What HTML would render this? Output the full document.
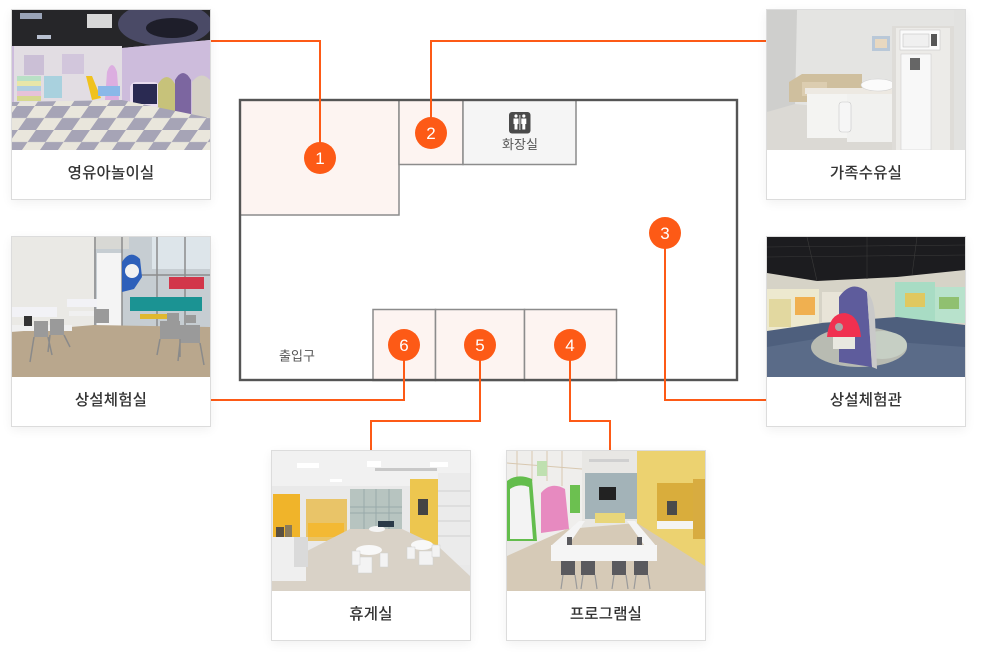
<!DOCTYPE html>
<html><head><meta charset="utf-8">
<style>
html,body{margin:0;padding:0;background:#fff;}
body{width:985px;height:663px;position:relative;overflow:hidden;font-family:"Liberation Sans","Noto Sans CJK KR",sans-serif;}
.card{position:absolute;width:198px;height:189px;border:1px solid #dcdcdc;background:#fff;box-shadow:0 3px 10px rgba(0,0,0,0.06);}
.card svg{display:block;width:198px;height:140px;}
.card .cap{height:49px;line-height:47px;text-align:center;font-size:15.5px;font-weight:500;color:#333;letter-spacing:0.2px;}
#plan{position:absolute;left:0;top:0;}
</style></head><body>

<svg id="plan" width="985" height="663" viewBox="0 0 985 663" xmlns="http://www.w3.org/2000/svg">
  <rect x="240" y="100" width="497" height="280" fill="#fff"/>
  <rect x="240" y="100" width="159" height="115" fill="#fdf4f1" stroke="#8c8c8c" stroke-width="1.5"/>
  <rect x="399" y="100" width="64" height="64.5" fill="#fdf4f1" stroke="#8c8c8c" stroke-width="1.5"/>
  <rect x="463" y="100" width="113" height="64.5" fill="#f5f5f5" stroke="#8c8c8c" stroke-width="1.5"/>
  <rect x="373" y="309.5" width="62.5" height="71" fill="#fdf4f1" stroke="#8c8c8c" stroke-width="1.5"/>
  <rect x="435.5" y="309.5" width="89" height="71" fill="#fdf4f1" stroke="#8c8c8c" stroke-width="1.5"/>
  <rect x="524.5" y="309.5" width="92" height="71" fill="#fdf4f1" stroke="#8c8c8c" stroke-width="1.5"/>
  <rect x="240" y="100" width="497" height="280" fill="none" stroke="#555" stroke-width="2.4"/>
  <!-- toilet icon -->
  <rect x="509" y="112" width="21.5" height="21.5" rx="3" fill="#4a4a4a"/>
  <circle cx="516" cy="116" r="1.6" fill="#fff"/>
  <path d="M513.5 118.5h5v5.5h-1v5.5h-3v-5.5h-1z" fill="#fff"/>
  <circle cx="523.8" cy="116" r="1.6" fill="#fff"/>
  <path d="M521.3 118.5h5v5.5h-1v5.5h-3v-5.5h-1z" fill="#fff"/>
  <line x1="519.9" y1="115" x2="519.9" y2="130" stroke="#fff" stroke-width="0.8"/>
  <text x="520" y="149" text-anchor="middle" font-size="13" fill="#555" font-family="Liberation Sans, Noto Sans CJK KR, sans-serif">화장실</text>
  <text x="297" y="360.5" text-anchor="middle" font-size="13" fill="#555" font-family="Liberation Sans, Noto Sans CJK KR, sans-serif">출입구</text>
  <!-- connectors -->
  <g fill="none" stroke="#fd5a16" stroke-width="2">
    <polyline points="211,41 320,41 320,158"/>
    <polyline points="766,41 431,41 431,133"/>
    <polyline points="665,233 665,400 766,400"/>
    <polyline points="404,345 404,400 211,400"/>
    <polyline points="480,345 480,421 371,421 371,451"/>
    <polyline points="570,345 570,421 610,421 610,451"/>
  </g>
  <g fill="#fd5a16">
    <circle cx="320" cy="158" r="16"/>
    <circle cx="431" cy="133" r="16"/>
    <circle cx="665" cy="233" r="16"/>
    <circle cx="570" cy="345" r="16"/>
    <circle cx="480" cy="345" r="16"/>
    <circle cx="404" cy="345" r="16"/>
  </g>
  <g fill="#fff" font-size="17" text-anchor="middle" font-family="Liberation Sans, sans-serif">
    <text x="320" y="164">1</text>
    <text x="431" y="139">2</text>
    <text x="665" y="239">3</text>
    <text x="570" y="351">4</text>
    <text x="480" y="351">5</text>
    <text x="404" y="351">6</text>
  </g>
</svg>

<!-- Card 1 영유아놀이실 -->
<div class="card" style="left:11px;top:9px;">
<svg viewBox="0 0 198 140" xmlns="http://www.w3.org/2000/svg">
  <defs>
    <pattern id="chk" width="36" height="24" patternUnits="userSpaceOnUse" patternTransform="skewX(-35)">
      <rect width="36" height="24" fill="#e9e6dc"/>
      <rect width="18" height="12" fill="#a6a4b6"/>
      <rect x="18" y="12" width="18" height="12" fill="#a6a4b6"/>
    </pattern>
  </defs>
  <rect width="198" height="140" fill="#c8b8d6"/>
  <path d="M0 0H198V30L110 38L0 36Z" fill="#262629"/>
  <rect x="75" y="4" width="25" height="14" fill="#d8d8d8"/>
  <rect x="8" y="3" width="22" height="6" fill="#9aa4b8"/>
  <rect x="25" y="25" width="14" height="4" fill="#b8c0d0"/>
  <ellipse cx="153" cy="14" rx="47" ry="22" fill="#4a4a66"/>
  <ellipse cx="160" cy="18" rx="26" ry="10" fill="#1e1e2a"/>
  <path d="M0 36L110 38L198 30V140H0Z" fill="#cdbcdc"/>
  <rect x="2" y="36" width="108" height="58" fill="#e2dde3"/>
  <rect x="12" y="45" width="20" height="20" fill="#cbbfd6"/>
  <rect x="50" y="44" width="22" height="20" fill="#d2c6dc"/>
  <rect x="5" y="66" width="24" height="5" fill="#b9e0c6"/>
  <rect x="5" y="71" width="24" height="5" fill="#e8e6a8"/>
  <rect x="5" y="76" width="24" height="5" fill="#b0cfe0"/>
  <rect x="5" y="81" width="24" height="5" fill="#e6c2d8"/>
  <rect x="5" y="86" width="24" height="5" fill="#d6d890"/>
  <rect x="32" y="66" width="18" height="22" fill="#a9d1de"/>
  <path d="M74 66L80 66L89 88L80 90Z" fill="#f0c21e"/>
  <path d="M93 90L95 62Q100 48 105 62L107 90Z" fill="#dcaee0"/>
  <rect x="86" y="76" width="22" height="10" fill="#8ab8e8"/>
  <rect x="118" y="72" width="30" height="26" rx="6" fill="#e8dcef"/>
  <rect x="121" y="74" width="24" height="20" fill="#2a2a52"/>
  <path d="M146 108V74Q155 60 163 74V108Z" fill="#c7c27a"/>
  <path d="M163 110V70Q171 56 179 70V110Z" fill="#7c66a0"/>
  <path d="M180 115V72Q189 60 198 70V117Z" fill="#d5d1c6"/>
  <path d="M0 92L110 90L198 108V140H0Z" fill="url(#chk)"/>
</svg>
<div class="cap">영유아놀이실</div>
</div>

<!-- Card 2 가족수유실 -->
<div class="card" style="left:766px;top:9px;">
<svg viewBox="0 0 198 140" xmlns="http://www.w3.org/2000/svg">
  <rect width="198" height="140" fill="#e4e4e2"/>
  <path d="M0 0H30L28 98L0 102Z" fill="#cfcfcd"/>
  <path d="M0 102L28 94L198 110V140H0Z" fill="#dbd9d4"/>
  <rect x="105" y="26" width="18" height="15" fill="#b9c8d8"/>
  <rect x="108" y="29" width="12" height="9" fill="#e8d8c0"/>
  <path d="M22 72L35 64H95L95 92H40L22 92Z" fill="#cfbf9e"/>
  <path d="M35 72H60V86H35Z" fill="#dccdb0"/>
  <rect x="38" y="78" width="88" height="6" fill="#ede9e2"/>
  <rect x="40" y="84" width="40" height="44" fill="#f4f4f2"/>
  <rect x="80" y="84" width="46" height="48" fill="#f1f1ef"/>
  <ellipse cx="111" cy="75" rx="17" ry="6" fill="#fbfbfb" stroke="#d0d0d0" stroke-width="0.6"/>
  <rect x="72" y="92" width="12" height="30" rx="3" fill="#f6f6f6" stroke="#c8c8c8" stroke-width="0.6"/>
  <rect x="125" y="16" width="62" height="128" fill="#dedcd8"/>
  <rect x="129" y="18" width="54" height="124" fill="#ecebe8"/>
  <rect x="133" y="20" width="40" height="20" fill="#fafafa" stroke="#c9c9c9" stroke-width="0.6"/>
  <rect x="136" y="24" width="26" height="13" fill="#f0f0f0" stroke="#bbb" stroke-width="0.5"/>
  <rect x="164" y="24" width="6" height="12" fill="#555"/>
  <rect x="134" y="44" width="30" height="96" fill="#f8f8f8" stroke="#cfcfcf" stroke-width="0.6"/>
  <rect x="143" y="48" width="10" height="12" fill="#666"/>
  <rect x="187" y="0" width="11" height="140" fill="#e2e2e0"/>
</svg>
<div class="cap">가족수유실</div>
</div>

<!-- Card 3 상설체험실 -->
<div class="card" style="left:11px;top:236px;">
<svg viewBox="0 0 198 140" xmlns="http://www.w3.org/2000/svg">
  <rect width="198" height="140" fill="#eae9e5"/>
  <rect x="82" y="0" width="116" height="92" fill="#c6cdd2"/>
  <rect x="140" y="0" width="58" height="32" fill="#dde5ea"/>
  <rect x="82" y="0" width="35" height="12" fill="#d8d8d4"/>
  <rect x="85" y="16" width="25" height="73" fill="#f4f4f4"/>
  <g stroke="#8c8c8c" stroke-width="1.5">
    <line x1="83" y1="0" x2="83" y2="92"/>
    <line x1="110" y1="0" x2="110" y2="92"/>
    <line x1="145" y1="0" x2="145" y2="92"/>
    <line x1="173" y1="0" x2="173" y2="92"/>
    <line x1="110" y1="38" x2="198" y2="38"/>
  </g>
  <path d="M110 25Q118 12 128 22L130 40L122 52L110 55Z" fill="#2e60ba"/>
  <circle cx="120" cy="34" r="7" fill="#f2f2f2"/>
  <rect x="157" y="40" width="35" height="12" fill="#d2364a"/>
  <rect x="118" y="60" width="72" height="14" fill="#1b9393"/>
  <rect x="128" y="77" width="30" height="5" fill="#e0b830"/>
  <path d="M0 95L82 88L198 90V140H0Z" fill="#b9a78d"/>
  <rect x="0" y="70" width="45" height="10" fill="#f2f2f6"/>
  <rect x="55" y="62" width="30" height="8" fill="#f2f2f6"/>
  <rect x="0" y="88" width="60" height="6" fill="#f0f0f0"/>
  <rect x="57" y="74" width="38" height="5" fill="#f0f0f0"/>
  <rect x="12" y="79" width="8" height="10" fill="#333"/>
  <g fill="#9a9a9a">
    <rect x="22" y="84" width="14" height="16"/>
    <rect x="38" y="82" width="14" height="16"/>
    <rect x="82" y="72" width="8" height="14"/>
    <rect x="90" y="72" width="7" height="14"/>
    <rect x="148" y="84" width="20" height="18"/>
    <rect x="168" y="88" width="20" height="18"/>
    <rect x="155" y="76" width="12" height="8"/>
    <rect x="172" y="78" width="12" height="8"/>
  </g>
  <g stroke="#8a8a8a" stroke-width="1.5" fill="none">
    <path d="M22 100L18 125M36 100L40 118M38 98L36 115M52 98L58 110"/>
    <path d="M148 102L145 118M168 102L168 120M168 106L166 124M188 106L192 128"/>
  </g>
  <rect x="0" y="0" width="198" height="140" fill="none"/>
</svg>
<div class="cap">상설체험실</div>
</div>

<!-- Card 4 상설체험관 -->
<div class="card" style="left:766px;top:236px;">
<svg viewBox="0 0 198 140" xmlns="http://www.w3.org/2000/svg">
  <rect width="198" height="140" fill="#d6d3c7"/>
  <path d="M0 0H198V33L130 40L50 44L0 36Z" fill="#1c1c1f"/>
  <g stroke="#3a3a3a" stroke-width="0.6">
    <line x1="0" y1="10" x2="198" y2="8"/><line x1="0" y1="20" x2="198" y2="18"/>
    <line x1="40" y1="0" x2="50" y2="44"/><line x1="100" y1="0" x2="100" y2="42"/><line x1="150" y1="0" x2="145" y2="38"/>
  </g>
  <rect x="0" y="52" width="52" height="42" fill="#ede9cf"/>
  <rect x="2" y="62" width="22" height="28" fill="#e2d8a0"/>
  <rect x="28" y="60" width="20" height="18" fill="#f0b050"/>
  <rect x="55" y="55" width="25" height="30" fill="#e8e4d8"/>
  <rect x="128" y="45" width="40" height="40" fill="#a8dcc4"/>
  <rect x="138" y="56" width="20" height="14" fill="#e0c860"/>
  <rect x="168" y="50" width="30" height="36" fill="#b8e2cc"/>
  <rect x="172" y="60" width="20" height="12" fill="#90c070"/>
  <path d="M0 94L55 86L130 80L198 88V140H0Z" fill="#4e5f7d"/>
  <path d="M0 110L60 100L198 110V140H0Z" fill="#5a6b88"/>
  <ellipse cx="92" cy="110" rx="48" ry="20" fill="#b8bbb2"/>
  <ellipse cx="115" cy="108" rx="25" ry="14" fill="#c6cfc4"/>
  <path d="M72 125V60Q85 42 100 55L105 130Z" fill="#5e5c9c"/>
  <path d="M100 55Q107 62 108 80L110 132L105 130Z" fill="#c9c9c9"/>
  <path d="M60 100Q62 76 78 76Q92 78 94 100Z" fill="#f03050"/>
  <rect x="66" y="100" width="22" height="12" fill="#e8e8e0"/>
  <circle cx="72" cy="90" r="4" fill="#a8a8a8"/>
</svg>
<div class="cap">상설체험관</div>
</div>

<!-- Card 5 휴게실 -->
<div class="card" style="left:271px;top:450px;">
<svg viewBox="0 0 198 140" xmlns="http://www.w3.org/2000/svg">
  <rect width="198" height="140" fill="#e9e9e9"/>
  <rect x="0" y="0" width="198" height="35" fill="#f1f1f1"/>
  <g fill="#ffffff"><rect x="25" y="12" width="22" height="5"/><rect x="95" y="10" width="14" height="6"/><rect x="158" y="11" width="18" height="5"/><rect x="58" y="28" width="12" height="3"/><rect x="140" y="28" width="12" height="3"/></g>
  <rect x="103" y="17" width="62" height="3" fill="#c8c8c8"/>
  <rect x="78" y="38" width="52" height="40" fill="#b7c4c0"/>
  <g stroke="#9aa" stroke-width="1"><line x1="78" y1="56" x2="130" y2="56"/><line x1="78" y1="62" x2="130" y2="62"/><line x1="92" y1="38" x2="92" y2="78"/><line x1="104" y1="38" x2="104" y2="78"/><line x1="117" y1="38" x2="117" y2="78"/></g>
  <rect x="1" y="43" width="27" height="45" fill="#f0b42a"/>
  <rect x="34" y="48" width="41" height="42" fill="#e9c468"/>
  <rect x="36" y="72" width="36" height="14" fill="#f3b934"/>
  <rect x="138" y="28" width="28" height="66" fill="#edc64f"/>
  <rect x="146" y="48" width="10" height="16" fill="#444"/>
  <rect x="166" y="22" width="32" height="92" fill="#ebebeb"/>
  <g stroke="#d0d0d0" stroke-width="1"><line x1="166" y1="40" x2="198" y2="40"/><line x1="166" y1="55" x2="198" y2="55"/><line x1="166" y1="70" x2="198" y2="70"/><line x1="166" y1="85" x2="198" y2="85"/></g>
  <path d="M0 130L35 100L78 78H130L166 95L198 125V140H0Z" fill="#d9d2c7"/>
  <rect x="0" y="86" width="34" height="44" fill="#efefef"/>
  <rect x="22" y="86" width="14" height="30" fill="#dadada"/>
  <rect x="4" y="76" width="8" height="10" fill="#5a5040"/>
  <rect x="13" y="74" width="7" height="12" fill="#8a7a5a"/>
  <ellipse cx="97" cy="99" rx="13" ry="5" fill="#f8f8f8"/>
  <ellipse cx="150" cy="94" rx="11" ry="5" fill="#f8f8f8"/>
  <ellipse cx="105" cy="78" rx="8" ry="3" fill="#f4f4f4"/>
  <rect x="106" y="70" width="16" height="6" fill="#2a3a48"/>
  <g fill="#f3f3f3" stroke="#cfcfcf" stroke-width="0.5"><rect x="86" y="106" width="14" height="16"/><rect x="80" y="100" width="8" height="14"/><rect x="108" y="102" width="8" height="14"/><rect x="147" y="100" width="14" height="14"/><rect x="135" y="96" width="8" height="12"/><rect x="160" y="94" width="8" height="12"/></g>
</svg>
<div class="cap">휴게실</div>
</div>

<!-- Card 6 프로그램실 -->
<div class="card" style="left:506px;top:450px;">
<svg viewBox="0 0 198 140" xmlns="http://www.w3.org/2000/svg">
  <rect width="198" height="140" fill="#e8e7e4"/>
  <rect x="0" y="0" width="75" height="90" fill="#efeeec"/>
  <g stroke="#d8c8b0" stroke-width="1"><line x1="10" y1="0" x2="10" y2="30"/><line x1="25" y1="0" x2="25" y2="30"/><line x1="40" y1="0" x2="40" y2="30"/><line x1="55" y1="0" x2="55" y2="35"/><line x1="0" y1="12" x2="75" y2="18"/></g>
  <rect x="30" y="10" width="10" height="15" fill="#bfe0b0"/>
  <path d="M0 90V30Q10 22 25 28L30 90Z" fill="#63bd4c"/>
  <path d="M3 88V38Q12 32 22 36L26 88Z" fill="#f3f3f3"/>
  <path d="M34 82V42Q44 30 58 38L62 78Z" fill="#e78ac0"/>
  <rect x="63" y="34" width="10" height="28" fill="#6cc050"/>
  <rect x="78" y="22" width="52" height="46" fill="#a3b3b8"/>
  <rect x="92" y="36" width="17" height="13" fill="#222"/>
  <rect x="82" y="8" width="40" height="3" fill="#d0d0d0"/>
  <rect x="130" y="0" width="68" height="118" fill="#ecd270"/>
  <rect x="150" y="32" width="36" height="38" fill="#d9ad3c"/>
  <rect x="160" y="50" width="10" height="14" fill="#4a4a4a"/>
  <rect x="150" y="70" width="36" height="8" fill="#f4f4f2"/>
  <rect x="186" y="28" width="12" height="60" fill="#d8ac40"/>
  <path d="M0 105L60 78L130 72L198 115V140H0Z" fill="#d6cab7"/>
  <rect x="88" y="62" width="30" height="10" fill="#e8d67a"/>
  <path d="M45 94L72 70H78L60 96Z" fill="#f4f4f4"/>
  <path d="M120 70L128 70L150 96L140 98Z" fill="#f4f4f4"/>
  <rect x="44" y="94" width="106" height="16" fill="#f5f5f5"/>
  <g fill="#5a5a5e">
    <rect x="54" y="110" width="14" height="14"/>
    <rect x="74" y="110" width="14" height="14"/>
    <rect x="105" y="110" width="14" height="14"/>
    <rect x="127" y="110" width="14" height="14"/>
    <rect x="60" y="86" width="5" height="8"/>
    <rect x="130" y="86" width="5" height="8"/>
  </g>
  <g stroke="#9a9a9a" stroke-width="1.2"><path d="M56 124L54 138M68 124L70 138M76 124L74 138M88 124L90 138M107 124L105 138M119 124L121 138M129 124L127 138M141 124L143 138"/></g>
</svg>
<div class="cap">프로그램실</div>
</div>

</body></html>
